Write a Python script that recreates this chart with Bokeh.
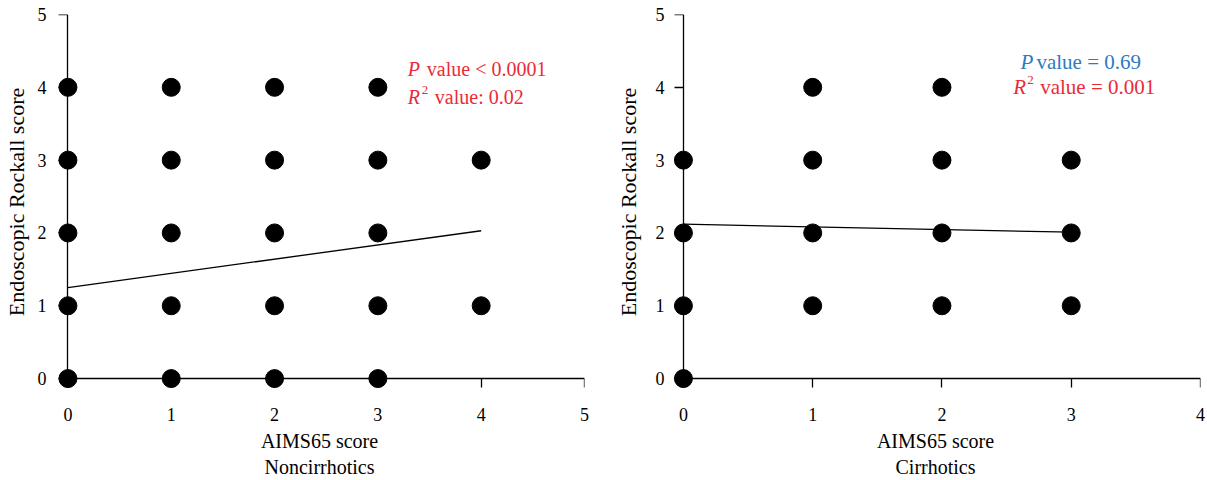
from bokeh.plotting import figure
from bokeh.layouts import row
from bokeh.models import Label, FixedTicker, Range1d, LinearAxis
from bokeh.embed import file_html
from bokeh.resources import INLINE

# Noncirrhotics
nc_x = [0, 0, 0, 0, 0, 1, 1, 1, 1, 1, 2, 2, 2, 2, 2, 3, 3, 3, 3, 3, 4, 4]
nc_y = [0, 1, 2, 3, 4, 0, 1, 2, 3, 4, 0, 1, 2, 3, 4, 0, 1, 2, 3, 4, 1, 3]
nc_fit_x = [0, 4]
nc_fit_y = [1.25, 2.03]

# Cirrhotics
c_x = [0, 0, 0, 0, 1, 1, 1, 1, 2, 2, 2, 2, 3, 3, 3]
c_y = [0, 1, 2, 3, 1, 2, 3, 4, 1, 2, 3, 4, 1, 2, 3]
c_fit_x = [0, 3]
c_fit_y = [2.12, 2.01]

y_ticks = [0, 1, 2, 3, 4, 5]

FONT = "Liberation Serif"
RED = "#ec2a37"
BLUE = "#2c7bbf"
H = 480


def panel(xs, ys, fx, fy, xmax, group, width, bl, br, xpad, ylab_standoff, ytick_standoff):
    p = figure(width=width, height=H,
               x_range=Range1d(-xpad, xmax),
               y_range=Range1d(-0.15, 5),
               output_backend="svg", toolbar_location=None,
               min_border_left=bl, min_border_right=br,
               min_border_top=14, min_border_bottom=89)
    p.outline_line_color = None
    p.grid.visible = False
    xt = list(range(0, xmax + 1))

    # side axes: only labels
    for ax in (p.xaxis[0], p.yaxis[0]):
        ax.axis_line_color = None
        ax.major_tick_line_color = None
        ax.minor_tick_line_color = None
        ax.major_tick_out = 0
        ax.major_tick_in = 0
        ax.major_label_text_font = FONT
        ax.major_label_text_font_size = "18px"
        ax.major_label_text_color = "black"
        ax.axis_label_text_font = FONT
        ax.axis_label_text_font_size = "20px"
        ax.axis_label_text_font_style = "normal"
        ax.axis_label_text_color = "black"
    p.yaxis.axis_label_text_font_size = "22px"
    p.xaxis.ticker = FixedTicker(ticks=xt)
    p.yaxis.ticker = FixedTicker(ticks=y_ticks)
    p.xaxis.axis_label = "AIMS65 score\n" + group
    p.yaxis.axis_label = "Endoscopic Rockall score"
    p.xaxis.major_label_standoff = 18
    p.xaxis.axis_label_standoff = 6
    p.yaxis.major_label_standoff = ytick_standoff
    p.yaxis.axis_label_standoff = ylab_standoff

    # fixed axes at zero: lines and ticks only
    fx_ax = LinearAxis(fixed_location=0, ticker=FixedTicker(ticks=xt), bounds=(0, xmax))
    fy_ax = LinearAxis(fixed_location=0, ticker=FixedTicker(ticks=y_ticks), bounds=(0, 5))
    for ax in (fx_ax, fy_ax):
        ax.axis_line_color = "black"
        ax.axis_line_width = 1.3
        ax.major_tick_line_color = "black"
        ax.major_tick_line_width = 1.3
        ax.major_tick_out = 9
        ax.major_tick_in = 0
        ax.minor_tick_line_color = None
        ax.major_label_text_color = None
        ax.major_label_text_font_size = "1px"
        ax.major_label_standoff = 0
    p.add_layout(fx_ax, "below")
    p.add_layout(fy_ax, "left")

    p.line(fx, fy, line_color="black", line_width=1.3)
    p.scatter(xs, ys, size=18, fill_color="black", line_color="black")
    return p


left = panel(nc_x, nc_y, nc_fit_x, nc_fit_y, 5, "Noncirrhotics", 600, 52, 16, 0.13, 6, 8)
right = panel(c_x, c_y, c_fit_x, c_fit_y, 4, "Cirrhotics", 607, 70, 7, 0.1, 12, 6)


def add_txt(p, x, y, text, color, xoff=0, yoff=0, style="normal", size="20px"):
    p.add_layout(Label(x=x, y=y, text=text, x_offset=xoff, y_offset=yoff,
                       text_font=FONT, text_font_size=size, text_font_style=style,
                       text_color=color, text_baseline="middle", text_align="left"))


# left annotations
add_txt(left, 3.29, 4.25, "P", RED, style="italic")
add_txt(left, 3.29, 4.25, "value < 0.0001", RED, xoff=19)
add_txt(left, 3.29, 3.87, "R", RED, style="italic")
add_txt(left, 3.29, 3.87, "2", RED, xoff=14, yoff=7, size="13px")
add_txt(left, 3.29, 3.87, "value: 0.02", RED, xoff=27)

# right annotations
add_txt(right, 2.607, 4.35, "P", BLUE, style="italic", size="21px")
add_txt(right, 2.607, 4.35, "value = 0.69", BLUE, xoff=16, size="21px")
add_txt(right, 2.551, 4.01, "R", RED, style="italic", size="21px")
add_txt(right, 2.551, 4.01, "2", RED, xoff=14, yoff=7, size="13px")
add_txt(right, 2.551, 4.01, "value = 0.001", RED, xoff=27, size="21px")

layout = row(left, right)
open("out.html", "w").write(file_html(layout, INLINE))
